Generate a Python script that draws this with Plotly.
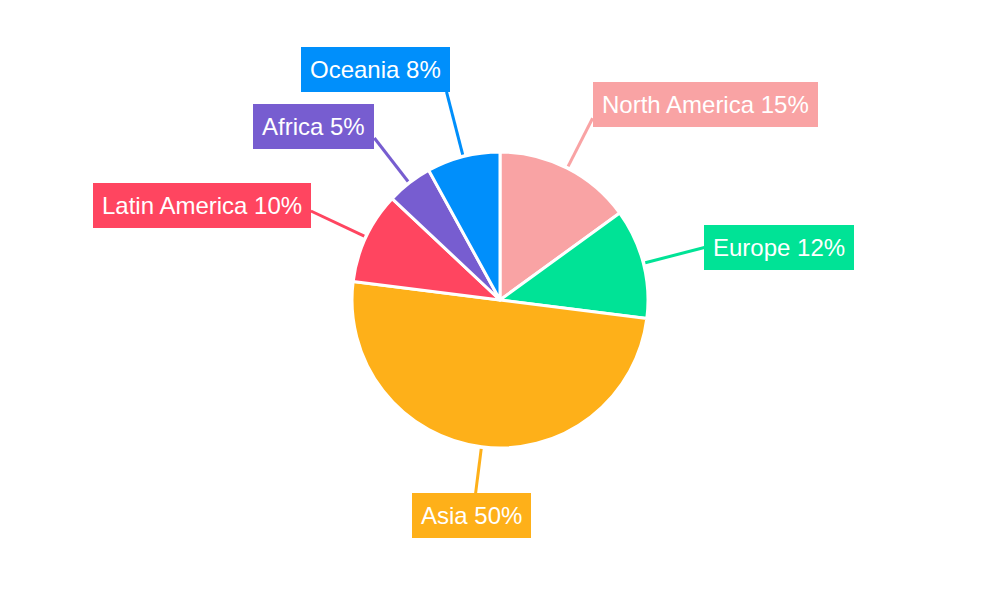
import math
import plotly.graph_objects as go

# ---- data ----
regions = ["North America", "Europe", "Asia", "Latin America", "Africa", "Oceania"]
shares = [15, 12, 50, 10, 5, 8]

# ---- style ----
colors = ["#F9A3A4", "#00E396", "#FEB019", "#FF4560", "#775DD0", "#008FFB"]
W, H = 1000, 600
PAGE_OFFSET = 8                    # body margin of the html page
CX, CY, R = 500 - PAGE_OFFSET, 300 - PAGE_OFFSET, 148   # pie centre / radius in pixels
R_IN = 150                         # leader line start radius (px)
leader_end = [204, 211, 195, 209, 205, 215]   # leader line end radius per label (px)
# label box anchoring relative to leader-line end (xanchor, yanchor, xshift, yshift)
label_anchor = [
    ("left", "middle", 0, 14),
    ("left", "middle", 0, 0),
    ("center", "top", -4, 0),
    ("right", "middle", 0, 6),
    ("right", "middle", 0, 12),
    ("right", "bottom", 3, 0),
]

fig = go.Figure(
    go.Pie(
        labels=regions,
        values=shares,
        sort=False,
        direction="clockwise",
        rotation=0,
        textinfo="none",
        marker=dict(colors=colors, line=dict(color="white", width=3)),
        domain=dict(x=[(CX - R) / W, (CX + R) / W], y=[1 - (CY + R) / H, 1 - (CY - R) / H]),
        showlegend=False,
        hoverinfo="label+percent",
    )
)

total = sum(shares)
cum = 0.0
shapes = []
annotations = []
for i, (name, v) in enumerate(zip(regions, shares)):
    mid = (cum + v / 2) / total * 2 * math.pi
    cum += v
    s, c = math.sin(mid), math.cos(mid)
    x0, y0 = CX + R_IN * s, CY - R_IN * c
    x1, y1 = CX + leader_end[i] * s, CY - leader_end[i] * c
    shapes.append(dict(
        type="line", xref="paper", yref="paper",
        x0=x0 / W, y0=1 - y0 / H, x1=x1 / W, y1=1 - y1 / H,
        line=dict(color=colors[i], width=3),
    ))
    xa, ya, xs, ys = label_anchor[i]
    pct = round(v / total * 100)
    annotations.append(dict(
        x=x1 / W, y=1 - y1 / H, xref="paper", yref="paper",
        text=f"{name} {pct}%", showarrow=False,
        xanchor=xa, yanchor=ya, xshift=xs, yshift=ys,
        bgcolor=colors[i], borderpad=9, borderwidth=0,
        font=dict(family="Liberation Sans, Arial, sans-serif", size=24, color="white"),
    ))

fig.update_layout(
    width=W, height=H,
    margin=dict(l=0, r=0, t=0, b=0),
    paper_bgcolor="white", plot_bgcolor="white",
    shapes=shapes, annotations=annotations,
)
fig.write_html("out.html")
